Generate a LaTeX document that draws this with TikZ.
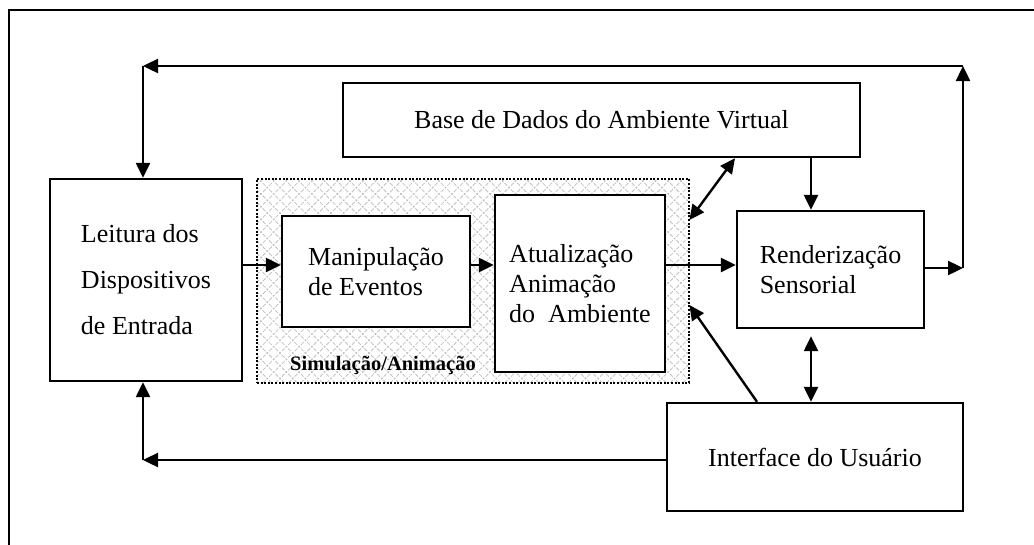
\documentclass[tikz,border=0pt]{standalone}
\usepackage{fontspec}
\setmainfont{Liberation Serif}
\usetikzlibrary{arrows.meta,patterns.meta}
\begin{document}
\begin{tikzpicture}[x=1pt,y=-1pt,
  box/.style={draw,line width=2.4pt,fill=white,inner sep=0pt,align=left,
    font=\fontsize{26}{30}\selectfont},
  arr/.style={line width=2.4pt,-{Triangle[length=15pt,width=14pt]}},
  darr/.style={line width=2.4pt,{Triangle[length=15pt,width=14pt]}-{Triangle[length=15pt,width=14pt]}}]
\useasboundingbox (0,0) rectangle (1034,544);
\clip (0,0) rectangle (1034,544);
\draw[line width=2.6pt] (9,10) rectangle (1060,570);
% simulation area
\node (sim) at (473,281) [draw,line width=2.4pt,dash pattern=on 2pt off 1.6pt,
  pattern={Hatch[angle=45,distance=9pt,line width=0.8pt]},pattern color=gray!50,
  minimum width=432pt,minimum height=204pt,inner sep=0pt] {};
\node (simlbl) at (383,365) {\fontsize{20.5}{24}\selectfont\bfseries Simulação/Animação};
% boxes
\node[box,minimum width=192pt,minimum height=202pt,font=\fontsize{26}{46}\selectfont] (leit) at (146,280)
  {Leitura dos\\Dispositivos\\de Entrada};
\node[box,minimum width=188pt,minimum height=111pt] (manip) at (376,271.5)
  {Manipulação\\de Eventos};
\node[box,minimum width=170pt,minimum height=177pt] (atual) at (580,283.5)
  {Atualização\\Animação\\do~ Ambiente};
\node[box,minimum width=517pt,minimum height=74pt] (base) at (601.5,120)
  {Base de Dados do Ambiente Virtual};
\node[box,minimum width=187pt,minimum height=117pt] (rend) at (830.5,269.5)
  {Renderização\\Sensorial};
\node[box,minimum width=296pt,minimum height=108pt] (iface) at (815,457)
  {Interface do Usuário};
% helper coordinates
\coordinate (rr) at (963,268);
\coordinate (tr) at (963,66);
\coordinate (tl) at (143,66);
\coordinate (bl) at (143,460);
\coordinate (ya) at (0,265);
\coordinate (bx) at (735,0);
\coordinate (by) at (0,220);
\coordinate (cx) at (811,0);
\coordinate (ix) at (757,0);
\coordinate (iy) at (0,305);
% connectors
\draw[arr] (rend.east |- rr) -- (rr);
\draw[arr] (rr) -- (tr);
\draw[arr] (tr) -- (tl);
\draw[arr] (tl) -- (tl |- leit.north);
\draw[arr] (iface.west |- bl) -- (bl);
\draw[arr] (bl) -- (bl |- leit.south);
\draw[arr] (leit.east |- ya) -- (manip.west |- ya);
\draw[arr] (manip.east |- ya) -- (atual.west |- ya);
\draw[arr] (atual.east |- ya) -- (rend.west |- ya);
\draw[darr] (base.south -| bx) -- (sim.east |- by);
\draw[arr] (base.south -| cx) -- (rend.north -| cx);
\draw[darr,shorten <=7pt] (rend.south -| cx) -- (iface.north -| cx);
\draw[arr] (iface.north -| ix) -- (sim.east |- iy);
\end{tikzpicture}
\end{document}
